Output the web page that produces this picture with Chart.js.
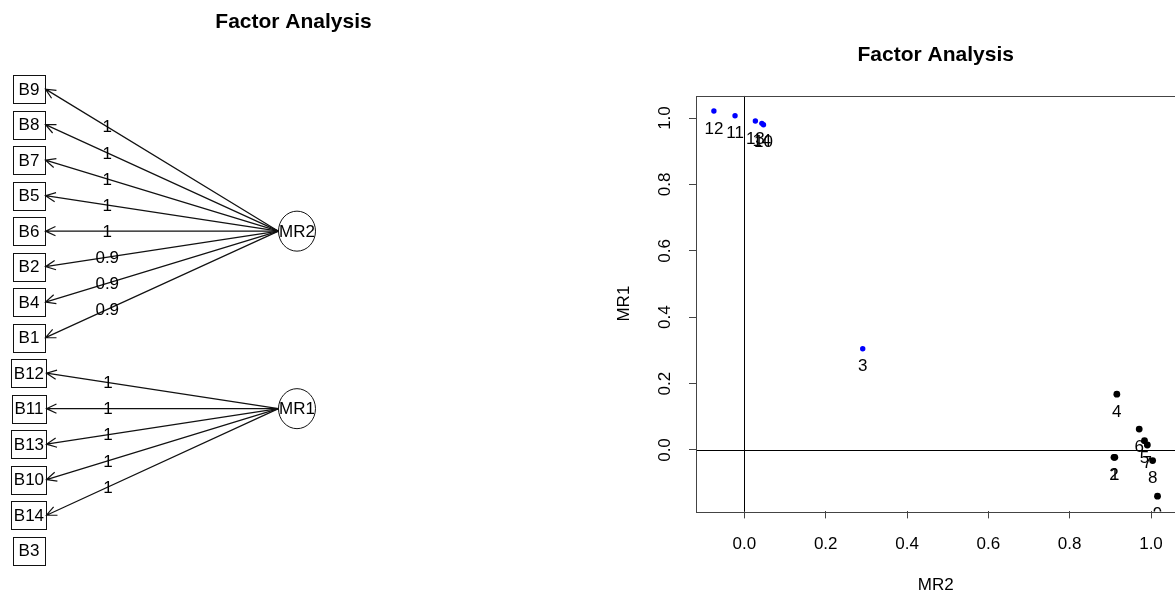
<!DOCTYPE html>
<html lang="en">
<head>
  <meta charset="UTF-8">
  <title>Factor Analysis</title>
  <script src="https://cdn.jsdelivr.net/npm/chart.js"></script>
  <style>
    html, body { margin: 0; padding: 0; background: #fff; overflow: hidden; }
    body { width: 1175px; height: 594px; position: relative; }
    canvas { position: absolute; top: 0; }
    #diagram { left: 0; }
    #loadings { left: 590px; }
  </style>
</head>
<body>
  <canvas id="diagram" width="587" height="594"></canvas>
  <canvas id="loadings" width="600" height="594"></canvas>

  <script>
    // Left panel: path diagram (items top to bottom, factor each item loads on)
    const items = ['B9', 'B8', 'B7', 'B5', 'B6', 'B2', 'B4', 'B1', 'B12', 'B11', 'B13', 'B10', 'B14', 'B3'];
    const itemFactor = ['MR2', 'MR2', 'MR2', 'MR2', 'MR2', 'MR2', 'MR2', 'MR2', 'MR1', 'MR1', 'MR1', 'MR1', 'MR1', null];
    const itemLoading = [1, 1, 1, 1, 1, 0.9, 0.9, 0.9, 1, 1, 1, 1, 1, null];
    const factors = ['MR2', 'MR1'];
    const factorRow = [4, 9];

    // Right panel: loadings of items 1..14 on MR2 (x) and MR1 (y)
    const itemNo = [1, 2, 3, 4, 5, 6, 7, 8, 9, 10, 11, 12, 13, 14];
    const mr2Load = [0.911, 0.909, 0.291, 0.916, 0.984, 0.971, 0.991, 1.004, 1.016, 0.047, -0.023, -0.075, 0.027, 0.043];
    const mr1Load = [-0.022, -0.022, 0.305, 0.168, 0.028, 0.063, 0.015, -0.032, -0.139, 0.980, 1.007, 1.021, 0.991, 0.984];
    const cluster = ['MR2', 'MR2', 'MR1', 'MR2', 'MR2', 'MR2', 'MR2', 'MR2', 'MR2', 'MR1', 'MR1', 'MR1', 'MR1', 'MR1'];
    const axisTicks = [0, 0.2, 0.4, 0.6, 0.8, 1.0];

    const FONT = '"Liberation Sans", Arial, Helvetica, sans-serif';
    Chart.defaults.font.family = FONT;
    Chart.defaults.color = '#000';

    const titleOpts = {
      display: true,
      text: 'Factor Analysis',
      color: '#000',
      font: { family: FONT, size: 21, weight: 'bold', lineHeight: 1.2 }
    };

    // Draws boxes, ellipses, arrows and loading labels at the positions of the hidden points
    const diagramPlugin = {
      id: 'diagram',
      afterDatasetsDraw(chart) {
        const ctx = chart.ctx;
        const itemPts = chart.getDatasetMeta(0).data;
        const facPts = chart.getDatasetMeta(1).data;
        const rx = 18.5, ry = 20;
        ctx.save();
        ctx.font = '17px ' + FONT;
        ctx.textAlign = 'center';
        ctx.textBaseline = 'middle';
        ctx.strokeStyle = '#111';
        ctx.fillStyle = '#000';
        ctx.lineWidth = 1;

        const boxRight = [];
        items.forEach((name, i) => {
          const p = itemPts[i];
          const w = Math.round(Math.max(32, ctx.measureText(name).width + 5));
          ctx.strokeRect(Math.round(p.x - w / 2) + 0.5, Math.round(p.y - 14) + 0.5, w, 28);
          ctx.fillText(name, p.x, p.y + 1);
          boxRight.push(Math.round(p.x - w / 2) + w + 0.5);
        });

        factors.forEach((f, j) => {
          const p = facPts[j];
          ctx.beginPath();
          ctx.ellipse(p.x, p.y, rx, ry, 0, 0, 2 * Math.PI);
          ctx.stroke();
          ctx.fillText(f, p.x, p.y + 1);
        });

        ctx.lineWidth = 1.2;
        items.forEach((name, i) => {
          const j = factors.indexOf(itemFactor[i]);
          if (j < 0) return;
          const f = facPts[j], p = itemPts[i];
          const x0 = f.x - rx, y0 = f.y, x1 = boxRight[i], y1 = p.y;
          ctx.beginPath();
          ctx.moveTo(x0, y0);
          ctx.lineTo(x1, y1);
          const a = Math.atan2(y0 - y1, x0 - x1);
          const len = 11, spread = 25 * Math.PI / 180;
          ctx.moveTo(x1 + len * Math.cos(a + spread), y1 + len * Math.sin(a + spread));
          ctx.lineTo(x1, y1);
          ctx.lineTo(x1 + len * Math.cos(a - spread), y1 + len * Math.sin(a - spread));
          ctx.stroke();
          const t = 0.735;
          ctx.fillText(String(itemLoading[i]), x0 + (x1 - x0) * t, y0 + (y1 - y0) * t + 1);
        });
        ctx.restore();
      }
    };

    new Chart(document.getElementById('diagram'), {
      type: 'scatter',
      data: {
        datasets: [
          { data: items.map((n, i) => ({ x: 0, y: i })), pointRadius: 0 },
          { data: factors.map((f, j) => ({ x: 1, y: factorRow[j] })), pointRadius: 0 }
        ]
      },
      options: {
        responsive: false,
        animation: false,
        devicePixelRatio: 1,
        events: [],
        layout: { padding: 0 },
        scales: {
          x: { type: 'linear', display: false, min: -0.108, max: 2.082 },
          y: { type: 'linear', display: false, min: -1.35, max: 14.22, reverse: true }
        },
        plugins: {
          legend: { display: false },
          tooltip: { enabled: false },
          title: Object.assign({}, titleOpts, { padding: { top: 10, bottom: 6 } })
        }
      },
      plugins: [diagramPlugin]
    });

    // Frame, zero lines and the item numbers under each point
    const framePlugin = {
      id: 'frame',
      beforeDatasetsDraw(chart) {
        const { ctx, chartArea: a, scales: { x, y } } = chart;
        ctx.save();
        ctx.beginPath();
        ctx.rect(a.left, a.top, a.right - a.left, a.bottom - a.top);
        ctx.clip();
        ctx.strokeStyle = '#000';
        ctx.lineWidth = 1;
        const px = Math.round(x.getPixelForValue(0)) + 0.5;
        const py = Math.round(y.getPixelForValue(0)) + 0.5;
        ctx.beginPath();
        ctx.moveTo(px, a.top); ctx.lineTo(px, a.bottom);
        ctx.moveTo(a.left, py); ctx.lineTo(a.right, py);
        ctx.stroke();
        ctx.restore();

        ctx.save();
        ctx.strokeStyle = '#444';
        ctx.lineWidth = 1;
        ctx.strokeRect(Math.round(a.left) + 0.5, Math.round(a.top) + 0.5,
          Math.round(a.right - a.left), Math.round(a.bottom - a.top));
        ctx.restore();
      },
      afterDatasetsDraw(chart) {
        const { ctx, chartArea: a } = chart;
        ctx.save();
        ctx.beginPath();
        ctx.rect(a.left, a.top, a.right - a.left, a.bottom - a.top);
        ctx.clip();
        ctx.font = '17px ' + FONT;
        ctx.textAlign = 'center';
        ctx.textBaseline = 'middle';
        ctx.fillStyle = '#000';
        chart.data.datasets.forEach((ds, d) => {
          chart.getDatasetMeta(d).data.forEach((el, k) => {
            ctx.fillText(String(ds.data[k].n), el.x, el.y + 18);
          });
        });
        ctx.restore();
      }
    };

    function clusterPoints(name) {
      const pts = [];
      itemNo.forEach((n, i) => {
        if (cluster[i] === name) pts.push({ x: mr2Load[i], y: mr1Load[i], n: n });
      });
      return pts;
    }

    const setTicks = scale => { scale.ticks = axisTicks.map(v => ({ value: v })); };

    new Chart(document.getElementById('loadings'), {
      type: 'scatter',
      data: {
        datasets: [
          { label: 'MR1', data: clusterPoints('MR1'), backgroundColor: '#0000ff', pointRadius: 2.7, borderWidth: 0 },
          { label: 'MR2', data: clusterPoints('MR2'), backgroundColor: '#000000', pointRadius: 3.4, borderWidth: 0 }
        ]
      },
      options: {
        responsive: false,
        animation: false,
        devicePixelRatio: 1,
        events: [],
        layout: { padding: { left: 0, top: 0, bottom: 0, right: 14.6 } },
        scales: {
          x: {
            type: 'linear',
            position: 'bottom',
            min: -0.119,
            max: 1.060,
            afterBuildTicks: setTicks,
            afterFit: s => { s.height = 82.6; },
            ticks: {
              autoSkip: false, maxRotation: 0, padding: 16, color: '#000',
              font: { size: 17 },
              callback: v => Number(v).toFixed(1)
            },
            grid: { drawOnChartArea: false, drawTicks: true, tickLength: 7, color: '#444' },
            border: { display: false },
            title: { display: true, text: 'MR2', color: '#000', font: { size: 17, lineHeight: 1.0 }, padding: { top: 0, bottom: 0 } }
          },
          y: {
            type: 'linear',
            position: 'left',
            min: -0.185,
            max: 1.067,
            afterBuildTicks: setTicks,
            afterFit: s => { s.width = 106; },
            ticks: {
              autoSkip: false, minRotation: 90, maxRotation: 90, crossAlign: 'center', padding: 12, color: '#000',
              font: { size: 17 },
              callback: v => Number(v).toFixed(1)
            },
            grid: { drawOnChartArea: false, drawTicks: true, tickLength: 7, color: '#444' },
            border: { display: false },
            title: { display: true, text: 'MR1', color: '#000', font: { size: 17 }, padding: { top: 24, bottom: 0 } }
          }
        },
        plugins: {
          legend: { display: false },
          tooltip: { enabled: false },
          title: Object.assign({}, titleOpts, { fullSize: false, padding: { top: 42.4, bottom: 28.2 } })
        }
      },
      plugins: [framePlugin]
    });
  </script>
</body>
</html>
